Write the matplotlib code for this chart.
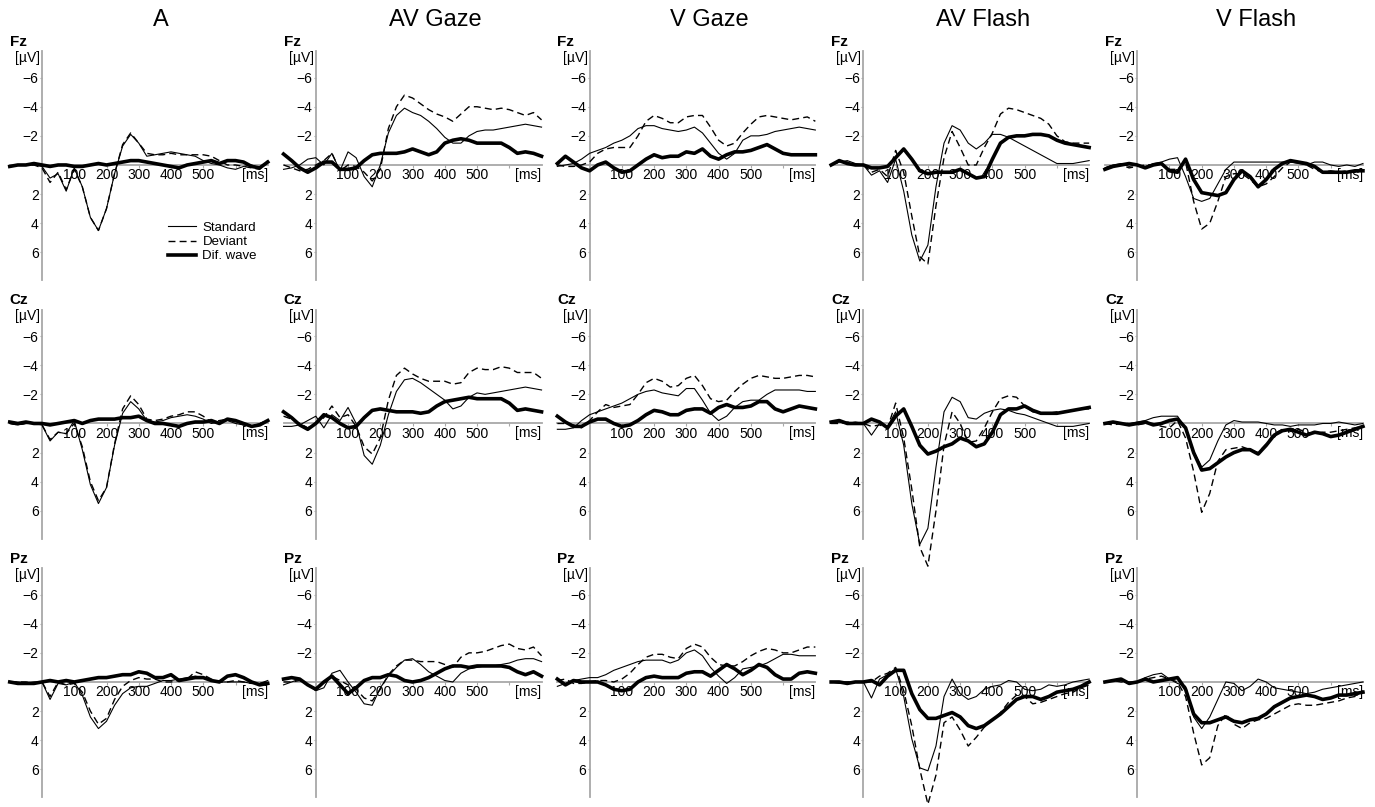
import matplotlib
matplotlib.use('Agg')
import matplotlib.pyplot as plt

times = list(range(-100, 701, 25))  # ms, sampling of the read-off curves

conditions = ['A', 'AV Gaze', 'V Gaze', 'AV Flash', 'V Flash']
sites = ['Fz', 'Cz', 'Pz']
y_ticks = [-6, -4, -2, 2, 4, 6]
x_ticks = [100, 200, 300, 400, 500, 600]
x_tick_labels = ['100', '200', '300', '400', '500', '']
legend_labels = ['Standard', 'Deviant', 'Dif. wave']

# ---- Fz ----
fz_a_std = [0.1, 0.0, 0.0, 0.0, 0.1, 0.9, 0.6, 1.8, 0.2, 1.5, 3.6, 4.5, 3.0, 0.6, -1.3, -2.1, -1.5, -0.6, -0.7, -0.8, -0.9, -0.8, -0.7, -0.6, -0.3, -0.1, 0.0, 0.2, 0.3, 0.1, 0.0, 0.2, -0.2]
fz_a_dev = [0.1, 0.0, 0.0, 0.0, 0.2, 1.2, 0.5, 1.7, 0.3, 1.5, 3.6, 4.5, 3.0, 0.6, -1.4, -2.2, -1.5, -0.8, -0.7, -0.7, -0.8, -0.7, -0.7, -0.7, -0.7, -0.6, -0.3, 0.0, 0.0, 0.1, 0.2, 0.3, -0.3]
fz_a_dif = [0.1, 0.0, 0.0, -0.1, 0.0, 0.1, 0.0, 0.0, 0.1, 0.1, 0.0, -0.1, 0.0, -0.1, -0.2, -0.3, -0.3, -0.2, -0.1, 0.0, 0.1, 0.2, 0.0, -0.1, -0.2, -0.3, -0.1, -0.3, -0.3, -0.2, 0.1, 0.2, -0.2]

fz_avg_std = [0.3, 0.2, 0.0, -0.4, -0.5, 0.0, -0.8, 0.4, -0.9, -0.5, 0.8, 1.5, 0.0, -2.2, -3.4, -3.9, -3.6, -3.4, -3.0, -2.5, -1.9, -1.5, -1.5, -2.0, -2.3, -2.4, -2.4, -2.5, -2.6, -2.7, -2.8, -2.7, -2.6]
fz_avg_dev = [0.0, 0.2, 0.4, 0.3, 0.0, -0.3, -0.8, 0.4, 0.0, 0.1, 0.5, 1.1, 0.3, -2.5, -4.0, -4.8, -4.6, -4.2, -3.8, -3.5, -3.3, -3.0, -3.5, -4.0, -4.0, -3.9, -3.8, -3.9, -3.8, -3.6, -3.4, -3.6, -3.1]
fz_avg_dif = [-0.75, -0.3, 0.2, 0.5, 0.2, -0.2, -0.2, 0.3, 0.3, 0.2, -0.3, -0.7, -0.8, -0.8, -0.8, -0.9, -1.1, -0.9, -0.7, -0.9, -1.5, -1.7, -1.8, -1.7, -1.5, -1.5, -1.5, -1.5, -1.2, -0.8, -0.9, -0.8, -0.6]

fz_vg_std = [0.1, 0.0, -0.1, -0.4, -0.8, -1.0, -1.2, -1.5, -1.7, -2.0, -2.5, -2.7, -2.7, -2.5, -2.4, -2.3, -2.4, -2.6, -2.2, -1.5, -0.8, -0.4, -0.8, -1.7, -2.0, -2.0, -2.1, -2.3, -2.4, -2.5, -2.6, -2.5, -2.4]
fz_vg_dev = [0.0, 0.1, 0.1, 0.0, -0.2, -0.8, -1.1, -1.2, -1.2, -1.2, -2.0, -3.0, -3.4, -3.2, -2.9, -2.9, -3.3, -3.4, -3.4, -2.6, -1.7, -1.3, -1.5, -2.2, -2.8, -3.3, -3.4, -3.3, -3.2, -3.1, -3.2, -3.3, -3.0]
fz_vg_dif = [-0.1, -0.6, -0.2, 0.2, 0.4, 0.0, -0.2, 0.2, 0.5, 0.4, 0.0, -0.4, -0.7, -0.5, -0.6, -0.6, -0.9, -0.8, -1.1, -0.6, -0.4, -0.7, -0.9, -0.9, -1.0, -1.2, -1.4, -1.1, -0.8, -0.7, -0.7, -0.7, -0.7]

fz_avf_std = [0.0, -0.2, -0.3, -0.1, 0.0, 0.7, 0.4, 1.2, -0.4, 1.8, 4.8, 6.6, 5.5, 1.5, -1.5, -2.7, -2.4, -1.5, -1.1, -1.5, -2.1, -2.1, -1.9, -1.6, -1.3, -1.0, -0.7, -0.4, -0.1, -0.1, -0.1, -0.2, -0.3]
fz_avf_dev = [0.0, -0.2, -0.2, 0.0, 0.0, 0.5, 0.3, 0.8, -1.0, 0.5, 3.5, 6.3, 6.8, 2.8, -0.5, -2.3, -1.2, 0.0, 0.0, -1.2, -2.2, -3.5, -3.9, -3.8, -3.6, -3.4, -3.2, -2.8, -2.0, -1.6, -1.5, -1.5, -1.5]
fz_avf_dif = [0.0, -0.3, -0.1, 0.0, 0.0, 0.2, 0.2, 0.1, -0.5, -1.1, -0.4, 0.4, 0.6, 0.5, 0.5, 0.5, 0.3, 0.6, 0.9, 0.8, -0.4, -1.5, -1.9, -2.0, -2.0, -2.1, -2.1, -2.0, -1.7, -1.5, -1.4, -1.3, -1.2]

fz_vf_std = [0.2, 0.0, -0.1, 0.1, 0.0, 0.1, -0.1, -0.2, -0.4, -0.5, 0.8, 2.3, 2.5, 2.3, 1.3, 0.3, -0.2, -0.2, -0.2, -0.2, -0.2, -0.2, -0.2, -0.2, -0.1, 0.0, -0.2, -0.2, 0.0, 0.1, 0.0, 0.1, -0.1]
fz_vf_dev = [0.2, 0.0, 0.0, 0.2, 0.1, 0.0, 0.0, -0.1, 0.3, 0.3, -0.2, 2.5, 4.4, 4.0, 2.5, 0.8, 0.6, 0.6, 1.0, 1.5, 1.3, 0.8, 0.2, -0.2, -0.2, 0.0, 0.3, 0.5, 0.4, 0.5, 0.4, 0.5, 0.3]
fz_vf_dif = [0.3, 0.1, 0.0, -0.1, 0.0, 0.2, 0.0, -0.1, 0.4, 0.5, -0.4, 1.0, 1.9, 2.0, 2.1, 1.9, 1.0, 0.4, 0.8, 1.5, 1.0, 0.3, -0.1, -0.3, -0.2, -0.1, 0.1, 0.5, 0.5, 0.5, 0.5, 0.4, 0.4]

# ---- Cz ----
cz_a_std = [0.0, 0.1, 0.0, 0.0, 0.1, 1.2, 0.6, 0.7, -0.2, 1.8, 4.2, 5.5, 4.4, 1.5, -0.7, -1.5, -1.0, -0.2, -0.1, -0.2, -0.4, -0.5, -0.6, -0.5, -0.3, 0.0, -0.1, -0.2, 0.0, 0.1, 0.2, 0.0, -0.2]
cz_a_dev = [0.0, 0.1, 0.0, 0.0, 0.1, 1.1, 0.6, 0.7, 0.0, 1.6, 4.0, 5.3, 4.4, 1.4, -1.0, -1.9, -1.3, -0.3, -0.2, -0.3, -0.5, -0.6, -0.8, -0.8, -0.5, -0.1, -0.2, -0.3, -0.1, 0.1, 0.2, 0.0, -0.2]
cz_a_dif = [-0.1, 0.0, -0.1, 0.0, 0.0, 0.1, 0.0, -0.1, -0.2, 0.0, -0.2, -0.3, -0.3, -0.3, -0.4, -0.4, -0.5, -0.2, 0.0, 0.0, 0.1, 0.2, 0.0, -0.1, -0.1, -0.2, 0.0, -0.3, -0.2, 0.0, 0.2, 0.1, -0.2]

cz_avg_std = [0.2, 0.2, 0.1, -0.2, -0.5, 0.3, -0.6, -0.2, -1.1, 0.0, 2.2, 2.8, 1.5, -0.6, -2.2, -3.0, -3.1, -2.8, -2.4, -2.0, -1.6, -1.0, -1.2, -1.8, -2.1, -2.0, -2.1, -2.2, -2.3, -2.4, -2.5, -2.4, -2.3]
cz_avg_dev = [-0.5, -0.3, 0.0, 0.3, 0.0, -0.4, -1.2, -0.4, -0.6, 0.2, 1.6, 2.1, 1.0, -1.6, -3.3, -3.8, -3.4, -3.1, -2.9, -2.9, -2.9, -2.7, -2.8, -3.5, -3.8, -3.7, -3.7, -3.9, -3.8, -3.5, -3.5, -3.5, -3.1]
cz_avg_dif = [-0.8, -0.4, 0.1, 0.4, 0.0, -0.6, -0.4, 0.0, 0.3, 0.2, -0.4, -0.9, -1.0, -0.9, -0.8, -0.8, -0.8, -0.7, -0.8, -1.2, -1.5, -1.6, -1.7, -1.8, -1.7, -1.7, -1.7, -1.7, -1.4, -0.9, -1.0, -0.9, -0.8]

cz_vg_std = [0.4, 0.4, 0.3, -0.2, -0.6, -0.8, -1.0, -1.2, -1.4, -1.7, -2.0, -2.2, -2.3, -2.1, -2.0, -1.9, -2.4, -2.4, -1.6, -0.7, -0.2, -0.5, -1.1, -1.5, -1.6, -1.6, -2.0, -2.3, -2.3, -2.3, -2.3, -2.2, -2.2]
cz_vg_dev = [0.0, 0.0, 0.1, 0.3, -0.2, -0.8, -1.3, -1.1, -1.2, -1.3, -2.0, -2.8, -3.1, -2.9, -2.5, -2.6, -3.1, -3.3, -2.6, -1.7, -1.5, -1.6, -2.2, -2.7, -3.1, -3.3, -3.2, -3.1, -3.1, -3.2, -3.3, -3.3, -3.2]
cz_vg_dif = [-0.5, -0.1, 0.2, 0.2, -0.1, -0.3, -0.3, 0.0, 0.2, 0.1, -0.2, -0.6, -0.9, -0.8, -0.6, -0.6, -0.9, -1.0, -1.0, -0.7, -1.1, -1.3, -1.1, -1.1, -1.2, -1.5, -1.5, -1.0, -0.8, -1.0, -1.2, -1.1, -1.0]

cz_avf_std = [0.0, -0.1, 0.0, -0.1, 0.0, 0.8, 0.0, 0.2, -0.8, 1.5, 5.5, 8.3, 7.2, 3.0, -0.8, -1.8, -1.5, -0.4, -0.3, -0.7, -0.9, -1.0, -0.9, -0.7, -0.6, -0.4, -0.2, 0.0, 0.2, 0.2, 0.2, 0.1, 0.0]
cz_avf_dev = [0.0, 0.0, -0.1, 0.0, 0.0, 0.2, 0.1, 0.3, -1.4, 1.0, 4.5, 8.5, 9.8, 6.0, 1.5, -0.8, 0.0, 1.3, 1.2, 0.3, -0.8, -1.7, -1.9, -1.8, -1.2, -0.8, -0.7, -0.7, -0.8, -0.8, -0.9, -1.0, -1.0]
cz_avf_dif = [-0.1, -0.2, 0.0, 0.0, 0.0, -0.3, -0.1, 0.3, -0.5, -1.0, 0.2, 1.5, 2.1, 1.9, 1.6, 1.4, 1.0, 1.2, 1.6, 1.4, 0.6, -0.6, -1.0, -1.0, -1.2, -0.9, -0.7, -0.7, -0.7, -0.8, -0.9, -1.0, -1.1]

cz_vf_std = [0.0, -0.1, 0.0, 0.0, -0.1, -0.2, -0.4, -0.5, -0.5, -0.5, 0.3, 1.9, 3.0, 2.5, 1.2, 0.1, -0.2, -0.1, -0.1, -0.1, 0.0, 0.1, 0.1, 0.2, 0.1, 0.1, 0.1, 0.0, 0.0, -0.1, 0.0, 0.1, 0.0]
cz_vf_dev = [0.0, 0.1, 0.0, 0.0, 0.1, 0.0, 0.0, 0.2, 0.3, -0.2, 1.0, 3.3, 6.1, 4.8, 2.6, 1.8, 1.7, 1.6, 1.8, 2.0, 1.4, 0.7, 0.4, 0.5, 0.4, 0.6, 0.7, 0.6, 0.6, 0.5, 0.4, 0.3, 0.2]
cz_vf_dif = [0.0, -0.1, 0.0, 0.1, 0.0, -0.1, 0.1, 0.0, -0.2, -0.3, 0.3, 2.0, 3.2, 3.1, 2.7, 2.3, 2.0, 1.8, 1.8, 2.1, 1.5, 0.8, 0.5, 0.4, 0.6, 0.8, 0.6, 0.7, 0.9, 0.8, 0.6, 0.4, 0.2]

# ---- Pz ----
pz_a_std = [0.0, 0.0, 0.1, 0.0, 0.0, 1.2, 0.1, 0.2, 0.0, 0.9, 2.4, 3.2, 2.7, 1.6, 0.8, 0.4, 0.3, 0.3, 0.1, -0.1, -0.1, -0.2, -0.3, -0.4, -0.3, -0.1, 0.0, 0.0, 0.0, 0.0, 0.1, 0.1, -0.1]
pz_a_dev = [0.0, 0.0, 0.0, 0.1, 0.0, 1.0, 0.0, 0.2, 0.1, 0.7, 2.0, 2.9, 2.5, 1.2, 0.3, -0.1, -0.3, -0.2, -0.2, 0.0, 0.0, -0.1, -0.2, -0.7, -0.5, -0.2, 0.0, 0.0, -0.1, 0.0, 0.1, 0.1, 0.0]
pz_a_dif = [0.0, 0.1, 0.1, 0.1, 0.0, -0.1, 0.0, -0.1, 0.0, -0.1, -0.2, -0.3, -0.3, -0.4, -0.5, -0.5, -0.7, -0.6, -0.3, -0.3, -0.5, -0.1, -0.2, -0.3, -0.3, -0.1, 0.0, -0.4, -0.5, -0.3, 0.0, 0.2, 0.1]

pz_avg_std = [0.2, 0.0, -0.2, 0.2, 0.6, 0.4, -0.6, -0.8, 0.0, 0.7, 1.5, 1.6, 0.4, -0.4, -1.0, -1.5, -1.6, -1.2, -0.7, -0.4, -0.1, 0.0, -0.6, -0.9, -1.0, -1.1, -1.1, -1.2, -1.3, -1.5, -1.6, -1.6, -1.4]
pz_avg_dev = [0.0, 0.0, -0.1, 0.2, 0.4, 0.1, -0.4, -0.1, 0.2, 0.5, 1.1, 1.3, 0.5, -0.5, -1.1, -1.5, -1.5, -1.4, -1.4, -1.4, -1.2, -1.0, -1.7, -2.0, -2.0, -2.1, -2.3, -2.5, -2.6, -2.3, -2.2, -2.4, -1.8]
pz_avg_dif = [-0.2, -0.3, -0.2, 0.2, 0.5, 0.0, -0.4, 0.2, 0.8, 0.4, -0.1, -0.3, -0.3, -0.5, -0.4, -0.1, 0.0, -0.1, -0.3, -0.6, -0.9, -1.1, -1.1, -1.0, -1.1, -1.1, -1.1, -1.1, -1.0, -0.7, -0.5, -0.7, -0.4]

pz_vg_std = [0.3, 0.1, -0.1, -0.2, -0.3, -0.3, -0.5, -0.8, -1.0, -1.2, -1.4, -1.5, -1.5, -1.5, -1.3, -1.5, -2.0, -2.2, -1.8, -1.0, -0.4, 0.1, -0.3, -0.9, -1.0, -1.1, -1.3, -1.6, -1.9, -1.9, -1.8, -1.8, -1.8]
pz_vg_dev = [-0.1, -0.2, 0.1, 0.1, 0.0, -0.1, -0.1, 0.0, -0.2, -0.6, -1.2, -1.7, -1.9, -1.9, -1.7, -1.6, -2.3, -2.6, -2.4, -1.7, -1.2, -1.1, -1.1, -1.4, -1.8, -2.1, -2.3, -2.2, -2.0, -2.0, -2.2, -2.4, -2.4]
pz_vg_dif = [-0.2, 0.2, -0.1, 0.0, 0.0, 0.0, 0.2, 0.5, 0.6, 0.5, 0.0, -0.3, -0.4, -0.3, -0.3, -0.3, -0.6, -0.7, -0.7, -0.4, -0.8, -1.2, -0.9, -0.5, -0.8, -1.2, -1.0, -0.5, -0.2, -0.2, -0.6, -0.7, -0.6]

pz_avf_std = [0.0, 0.1, 0.0, 0.0, 0.0, 1.1, -0.2, -0.5, -0.9, 1.0, 3.9, 5.9, 6.1, 4.4, 1.0, -0.2, 0.8, 1.2, 1.0, 0.5, 0.3, 0.2, -0.1, 0.0, 0.5, 0.6, 0.5, 0.2, 0.3, 0.2, 0.0, -0.1, -0.2]
pz_avf_dev = [0.0, 0.0, 0.0, 0.0, 0.0, 0.0, -0.4, -0.6, -1.0, 0.6, 3.0, 6.0, 8.4, 6.4, 2.8, 2.4, 3.3, 4.4, 3.8, 3.1, 2.6, 2.1, 1.4, 0.9, 1.0, 1.5, 1.4, 1.2, 1.0, 0.8, 0.7, 0.4, 0.2]
pz_avf_dif = [0.0, 0.0, 0.1, 0.0, 0.0, -0.1, 0.2, -0.4, -0.8, -0.8, 0.8, 1.9, 2.5, 2.5, 2.3, 2.1, 2.4, 3.0, 3.2, 3.0, 2.6, 2.2, 1.7, 1.2, 1.0, 1.0, 1.2, 1.0, 0.7, 0.6, 0.5, 0.3, 0.0]

pz_vf_std = [0.0, -0.1, -0.1, 0.1, 0.0, -0.3, -0.5, -0.6, -0.2, 0.1, 0.3, 2.4, 3.2, 2.4, 1.2, 0.0, 0.1, 0.6, 0.3, -0.2, 0.0, 0.4, 0.5, 0.6, 0.7, 0.8, 0.7, 0.5, 0.4, 0.3, 0.2, 0.1, 0.0]
pz_vf_dev = [0.0, -0.1, 0.0, 0.0, 0.0, -0.2, -0.3, -0.4, -0.2, 0.0, 1.0, 3.5, 5.7, 5.2, 3.0, 2.2, 2.9, 3.2, 2.8, 2.6, 2.5, 2.2, 1.9, 1.6, 1.5, 1.6, 1.6, 1.5, 1.4, 1.3, 1.1, 1.0, 0.6]
pz_vf_dif = [0.0, -0.1, -0.2, 0.1, 0.0, -0.2, 0.0, -0.1, -0.2, -0.3, 0.5, 2.2, 2.8, 2.8, 2.6, 2.4, 2.7, 2.8, 2.6, 2.5, 2.2, 1.7, 1.4, 1.1, 1.0, 0.9, 1.0, 1.2, 1.1, 0.9, 0.9, 0.8, 0.7]

waves = {
    'Fz': [(fz_a_std, fz_a_dev, fz_a_dif), (fz_avg_std, fz_avg_dev, fz_avg_dif),
           (fz_vg_std, fz_vg_dev, fz_vg_dif), (fz_avf_std, fz_avf_dev, fz_avf_dif),
           (fz_vf_std, fz_vf_dev, fz_vf_dif)],
    'Cz': [(cz_a_std, cz_a_dev, cz_a_dif), (cz_avg_std, cz_avg_dev, cz_avg_dif),
           (cz_vg_std, cz_vg_dev, cz_vg_dif), (cz_avf_std, cz_avf_dev, cz_avf_dif),
           (cz_vf_std, cz_vf_dev, cz_vf_dif)],
    'Pz': [(pz_a_std, pz_a_dev, pz_a_dif), (pz_avg_std, pz_avg_dev, pz_avg_dif),
           (pz_vg_std, pz_vg_dev, pz_vg_dif), (pz_avf_std, pz_avf_dev, pz_avf_dif),
           (pz_vf_std, pz_vf_dev, pz_vf_dif)],
}

plt.rcParams['font.family'] = ['Liberation Sans', 'DejaVu Sans']

W, H = 1375, 807
fig = plt.figure(figsize=(W / 100, H / 100), dpi=100)
grey = '#a8a8a8'

for r, site in enumerate(sites):
    for c, cond in enumerate(conditions):
        # pixel position of the t=0 axis and of the zero line
        x0 = 42 + 273.8 * c
        y0 = 165 + 258.5 * r
        ax = fig.add_axes([(x0 - 32.25) / W, 1 - (y0 + 115) / H, 258 / W, 228.6 / H])
        ax.patch.set_alpha(0)
        ax.set_xlim(-100, 700)
        ax.set_ylim(7.9, -7.8)

        for side in ['top', 'right']:
            ax.spines[side].set_visible(False)
        ax.spines['left'].set_position(('data', 0))
        ax.spines['bottom'].set_position(('data', 0))
        for side in ['left', 'bottom']:
            ax.spines[side].set_color(grey)
            ax.spines[side].set_linewidth(1.3)
            ax.spines[side].set_zorder(1)

        ax.set_yticks(y_ticks)
        ax.set_yticklabels([f'{v:d}'.replace('-', '\u2212') for v in y_ticks])
        ax.set_xticks(x_ticks)
        ax.set_xticklabels(x_tick_labels)
        ax.tick_params(axis='both', direction='out', length=1.8, width=0.8,
                       color=grey, pad=0.6, labelsize=10)

        std, dev, dif = waves[site][c]
        l1, = ax.plot(times, std, color='black', lw=0.8, clip_on=False, zorder=3)
        l2, = ax.plot(times, dev, color='black', lw=1.0, ls=(0, (5, 3)),
                      clip_on=False, zorder=3)
        l3, = ax.plot(times, dif, color='black', lw=2.6, clip_on=False, zorder=4,
                      solid_joinstyle='round')

        ax.text(-100, -8.45, site, fontsize=11, fontweight='bold',
                ha='left', va='center')
        ax.text(-6, -7.35, '[\u00b5V]', fontsize=10, ha='right', va='center')
        ax.text(700, 0.2, '[ms]', fontsize=10, ha='right', va='top')

        if r == 0:
            ax.text(370, -9.95, cond, fontsize=17, ha='center', va='center')

        if r == 0 and c == 0:
            ax.legend([l1, l2, l3], legend_labels, loc='upper left',
                      bbox_to_anchor=(391, 3.9), bbox_transform=ax.transData,
                      frameon=False, fontsize=9.5, handlelength=2.1,
                      handletextpad=0.5, labelspacing=0.15, borderpad=0,
                      borderaxespad=0)

fig.savefig('out.png', dpi=100)
